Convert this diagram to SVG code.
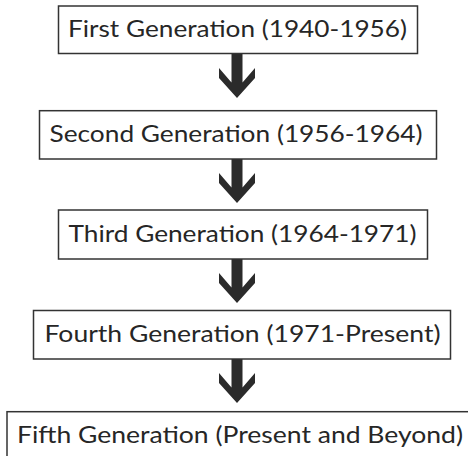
<svg xmlns="http://www.w3.org/2000/svg" width="468" height="456" viewBox="0 0 468 456">
<style>
.box{fill:#fff;stroke:#333;stroke-width:1.5}
.lbl{font-family:Lato,"Liberation Sans",sans-serif;font-size:23px;fill:#262626;text-anchor:middle}
.arr{fill:#2b2b2b}
</style>
<defs>
<path id="arrow" d="M-5.5,0 H5.5 V28.5 L18,14 V24 L0,44 L-18,24 V14 L-5.5,28.5 Z"/>
</defs>
<rect x="0" y="0" width="468" height="456" fill="#fff"/>
<g id="connectors">
<use href="#arrow" class="arr" x="237" y="54"/>
<use href="#arrow" class="arr" x="237" y="159"/>
<use href="#arrow" class="arr" x="237" y="259"/>
<use href="#arrow" class="arr" x="237" y="359"/>
</g>
<g id="n1">
<rect class="box" x="58.5" y="6" width="359" height="47.5"/>
<text class="lbl" x="237.5" y="37" textLength="339" lengthAdjust="spacingAndGlyphs">First Generation (1940-1956)</text>
</g>
<g id="n2">
<rect class="box" x="39.5" y="110.7" width="397" height="48.3"/>
<text class="lbl" x="236" y="142" textLength="373" lengthAdjust="spacingAndGlyphs">Second Generation (1956-1964)</text>
</g>
<g id="n3">
<rect class="box" x="58.5" y="210" width="369" height="49"/>
<text class="lbl" x="242.5" y="241.5" textLength="348" lengthAdjust="spacingAndGlyphs">Third Generation (1964-1971)</text>
</g>
<g id="n4">
<rect class="box" x="33.5" y="310.5" width="417" height="48.5"/>
<text class="lbl" x="242.5" y="341.5" textLength="396" lengthAdjust="spacingAndGlyphs">Fourth Generation (1971-Present)</text>
</g>
<g id="n5">
<rect class="box" x="7" y="411.7" width="470" height="60"/>
<text class="lbl" x="240" y="442.5" textLength="446" lengthAdjust="spacingAndGlyphs">Fifth Generation (Present and Beyond)</text>
</g>
</svg>
